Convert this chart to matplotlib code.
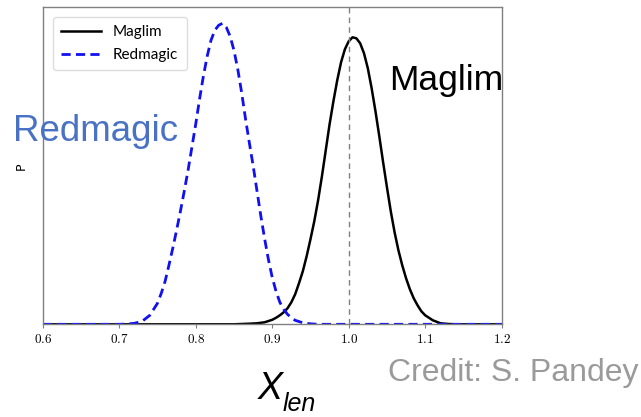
import matplotlib
matplotlib.use("Agg")
import matplotlib.pyplot as plt

# values (P in arbitrary units)
x_red = [0.60, 0.70, 0.71, 0.72, 0.73, 0.74, 0.75, 0.755, 0.76, 0.765, 0.77, 0.775,
         0.78, 0.785, 0.79, 0.795, 0.80, 0.805, 0.81, 0.815, 0.82, 0.825, 0.83,
         0.835, 0.84, 0.845, 0.85, 0.855, 0.86, 0.865, 0.87, 0.875, 0.88, 0.885,
         0.89, 0.895, 0.90, 0.905, 0.91, 0.915, 0.92, 0.925, 0.93, 0.94, 0.95,
         0.96, 1.20]
p_red = [0.0, 0.0, 0.003, 0.01, 0.03, 0.09, 0.21, 0.31, 0.43, 0.59, 0.76, 0.94,
         1.13, 1.33, 1.54, 1.77, 2.00, 2.25, 2.48, 2.68, 2.84, 2.94, 2.99,
         3.01, 2.97, 2.88, 2.74, 2.55, 2.32, 2.06, 1.82, 1.59, 1.34, 1.09,
         0.86, 0.65, 0.47, 0.33, 0.22, 0.15, 0.10, 0.065, 0.04, 0.015, 0.005,
         0.0, 0.0]

x_mag = [0.60, 0.85, 0.86, 0.87, 0.88, 0.89, 0.90, 0.905, 0.91, 0.915, 0.92, 0.925,
         0.93, 0.935, 0.94, 0.945, 0.95, 0.955, 0.96, 0.965, 0.97, 0.975, 0.98,
         0.985, 0.99, 0.995, 1.00, 1.005, 1.01, 1.015, 1.02, 1.025, 1.03, 1.035,
         1.04, 1.045, 1.05, 1.055, 1.06, 1.065, 1.07, 1.075, 1.08, 1.085, 1.09,
         1.095, 1.10, 1.11, 1.12, 1.13, 1.14, 1.20]
p_mag = [0.0, 0.0, 0.003, 0.006, 0.01, 0.02, 0.045, 0.065, 0.09, 0.12, 0.16, 0.22,
         0.30, 0.41, 0.53, 0.68, 0.85, 1.03, 1.24, 1.48, 1.74, 2.00, 2.23,
         2.44, 2.62, 2.75, 2.83, 2.87, 2.86, 2.81, 2.71, 2.56, 2.36, 2.13,
         1.88, 1.62, 1.37, 1.13, 0.92, 0.74, 0.59, 0.46, 0.35, 0.26, 0.19,
         0.13, 0.09, 0.04, 0.01, 0.003, 0.0, 0.0]

xticks = [0.6, 0.7, 0.8, 0.9, 1.0, 1.1, 1.2]

plt.rcParams['mathtext.fontset'] = 'cm'

W, H = 641, 417
fig = plt.figure(figsize=(W / 100, H / 100), dpi=100)
ax = fig.add_axes([42.7 / W, 1 - 324.3 / H, 459 / W, 317 / H])

ax.plot(x_mag, p_mag, color='black', lw=1.8, label='Maglim', solid_joinstyle='round')
ax.plot(x_red, p_red, color='#1010f0', lw=2.0, ls='--', dashes=(3.3, 1.9), label='Redmagic')
ax.axvline(1.0, color='#808080', lw=1.0, ls='--', dashes=(4, 3))

ax.set_xlim(0.6, 1.2)
ax.set_ylim(0, 3.17)
ax.set_yticks([])
ax.set_xticks(xticks)
ax.set_xticklabels([r'$%.1f$' % t for t in xticks], fontsize=9.5)
ax.tick_params(axis='x', direction='out', length=3, width=0.8, color='#808080', pad=3)
for s in ax.spines.values():
    s.set_color('#808080')
    s.set_linewidth(1.0)

ax.set_ylabel('P', fontsize=9, family='DejaVu Sans')
ax.yaxis.set_label_coords(-0.032, 0.5)

leg = ax.legend(loc='upper left', prop={'family': 'Lato', 'size': 11},
                handlelength=2.6, borderpad=0.55, labelspacing=0.6,
                bbox_to_anchor=(0.005, 0.995), fancybox=True, framealpha=1,
                edgecolor='#dddddd')

def px(x, y):
    return x / W, 1 - y / H

fig.text(*px(389, 90), 'Maglim', fontsize=25.5, family='Liberation Sans', color='black', va='baseline')
fig.text(*px(13, 140.7), 'Redmagic', fontsize=26.5, family='Liberation Sans', color='#4a72c4', va='baseline')
fig.text(*px(388, 381), 'Credit: S. Pandey', fontsize=23, family='Liberation Sans', color='#9a9a9a', va='baseline')
fig.text(*px(258, 399), 'X', fontsize=27, family='Liberation Sans', style='italic', color='black', va='baseline')
fig.text(*px(283, 411), 'len', fontsize=18, family='Liberation Sans', style='italic', color='black', va='baseline')

fig.savefig('out.png', dpi=100)
